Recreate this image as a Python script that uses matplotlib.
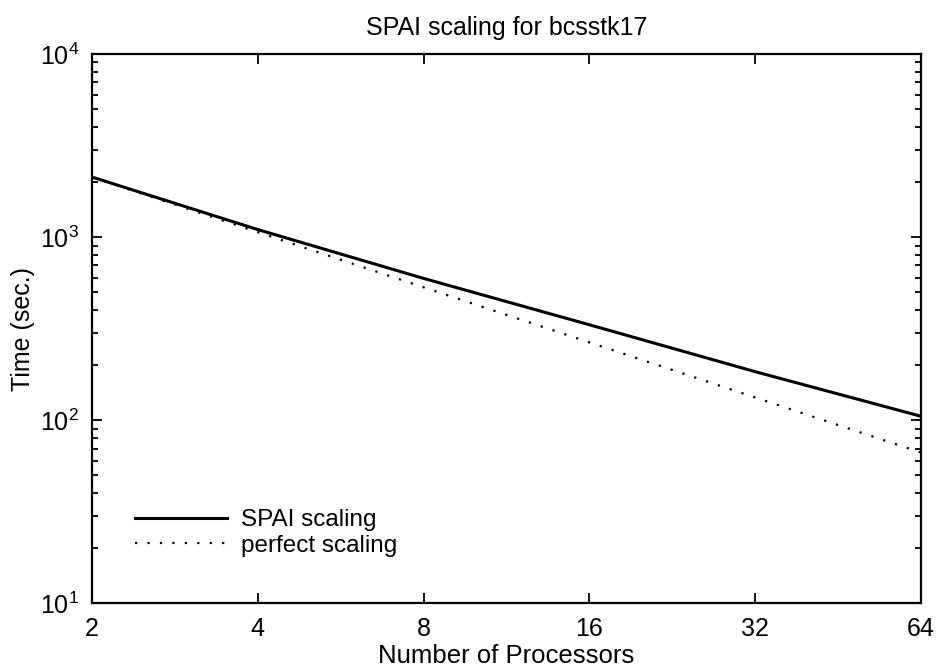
import matplotlib
matplotlib.use('Agg')
import matplotlib.pyplot as plt
from matplotlib.ticker import FixedLocator, FixedFormatter, LogLocator, NullLocator

plt.rcParams['font.family'] = ['Liberation Sans', 'DejaVu Sans']

processors = [2, 4, 8, 16, 32, 64]
spai_time = [2130, 1100, 595, 332, 184, 105]
perfect_time = [2130, 1065, 532, 266, 133, 66.5]
x_ticks = [2, 4, 8, 16, 32, 64]

fig = plt.figure(figsize=(9.38, 6.68), dpi=100)
ax = fig.add_axes([0.098, 0.097, 0.884, 0.822])

ax.plot(processors, spai_time, 'k-', linewidth=2.2, label='SPAI scaling')
ax.plot(processors, perfect_time, 'k', linestyle=(0, (1, 4.6)), linewidth=1.6,
        label='perfect scaling')

ax.set_xscale('log', base=2)
ax.set_yscale('log')
ax.set_xlim(2, 64)
ax.set_ylim(10, 1e4)

ax.xaxis.set_major_locator(FixedLocator(x_ticks))
ax.xaxis.set_major_formatter(FixedFormatter([str(t) for t in x_ticks]))
ax.xaxis.set_minor_locator(NullLocator())
ax.yaxis.set_major_locator(LogLocator(base=10, numticks=10))
ax.yaxis.set_minor_locator(LogLocator(base=10, subs=range(2, 10), numticks=20))

ax.tick_params(which='both', direction='in', top=True, right=True, width=1.3)
ax.tick_params(which='major', length=7, labelsize=18)
ax.tick_params(axis='x', which='major', pad=10)
ax.tick_params(axis='y', which='major', pad=9)
ax.tick_params(which='minor', length=4)
for s in ax.spines.values():
    s.set_linewidth(1.6)

ax.set_title('SPAI scaling for bcsstk17', fontsize=18, pad=14)
ax.set_xlabel('Number of Processors', fontsize=18.5, labelpad=2)
ax.set_ylabel('Time (sec.)', fontsize=18, labelpad=4)

ax.legend(loc='center left', bbox_to_anchor=(0.052, 0.128), frameon=False,
          fontsize=17.5, handlelength=3.8, handletextpad=0.55, labelspacing=0.15,
          borderpad=0, borderaxespad=0)

fig.savefig('out.png', dpi=100)
